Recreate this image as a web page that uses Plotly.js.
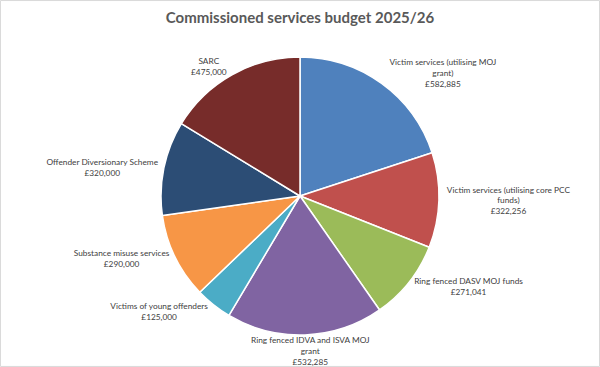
<!DOCTYPE html>
<html>
<head>
<meta charset="utf-8">
<script src="https://cdn.plot.ly/plotly-3.0.1.min.js"></script>
<style>html,body{margin:0;padding:0;background:#fff;}</style>
</head>
<body>
<div id="chart" style="width:600px;height:367px;"></div>
<script>
const categories = [
  "Victim services (utilising MOJ<br>grant)",
  "Victim services (utilising core PCC<br>funds)",
  "Ring fenced DASV MOJ funds",
  "Ring fenced IDVA and ISVA MOJ<br>grant",
  "Victims of young offenders",
  "Substance misuse services",
  "Offender Diversionary Scheme",
  "SARC"
];
const budgetValues = [582885, 322256, 271041, 532285, 125000, 290000, 320000, 475000];
const valueLabels = ["£582,885", "£322,256", "£271,041", "£532,285", "£125,000", "£290,000", "£320,000", "£475,000"];
const colors = ["#4F81BD", "#C0504D", "#9BBB59", "#8064A2", "#4BACC6", "#F79646", "#2C4D75", "#772C2A"];

const W = 600, H = 367, mt = 57, mb = 32;
const ph = H - mt - mb;
const labelFont = { family: "Lato, Open Sans, sans-serif", size: 8.3, color: "#404040" };

// IDVA label is centred below the pie (Excel style), so it is drawn as an annotation
const idvaIndex = 3;
const textpos = categories.map((c, i) => i === idvaIndex ? "none" : "outside");

const trace = {
  type: "pie",
  labels: categories,
  values: budgetValues,
  customdata: valueLabels,
  sort: false,
  direction: "clockwise",
  rotation: 0,
  marker: { colors: colors, line: { color: "#ffffff", width: 1.5 } },
  textposition: textpos,
  texttemplate: "%{label}<br>%{customdata}",
  textfont: labelFont,
  hoverinfo: "none",
  showlegend: false,
  automargin: false
};

const layout = {
  width: W, height: H,
  margin: { l: 0, r: 0, t: mt, b: mb },
  paper_bgcolor: "#ffffff",
  title: {
    text: "<b>Commissioned services budget 2025/26</b>",
    font: { family: "Lato, Open Sans, sans-serif", size: 15, color: "#595959" },
    x: 0.5, xanchor: "center", y: 1 - 18 / H, yanchor: "middle"
  },
  annotations: [{
    xref: "paper", yref: "paper",
    x: 310 / W, y: 1 / ph, xanchor: "center", yanchor: "top",
    text: categories[idvaIndex] + "<br>" + valueLabels[idvaIndex],
    showarrow: false, font: labelFont, align: "center", borderpad: 0
  }],
  shapes: [{
    type: "rect", xref: "paper", yref: "paper",
    x0: 0.0008, x1: 0.9992, y0: -mb / ph + 0.002, y1: 1 + mt / ph - 0.002,
    line: { color: "#d9d9d9", width: 1 }, fillcolor: "rgba(0,0,0,0)"
  }]
};

Plotly.newPlot("chart", [trace], layout, { displayModeBar: false, staticPlot: true });
</script>
</body>
</html>
